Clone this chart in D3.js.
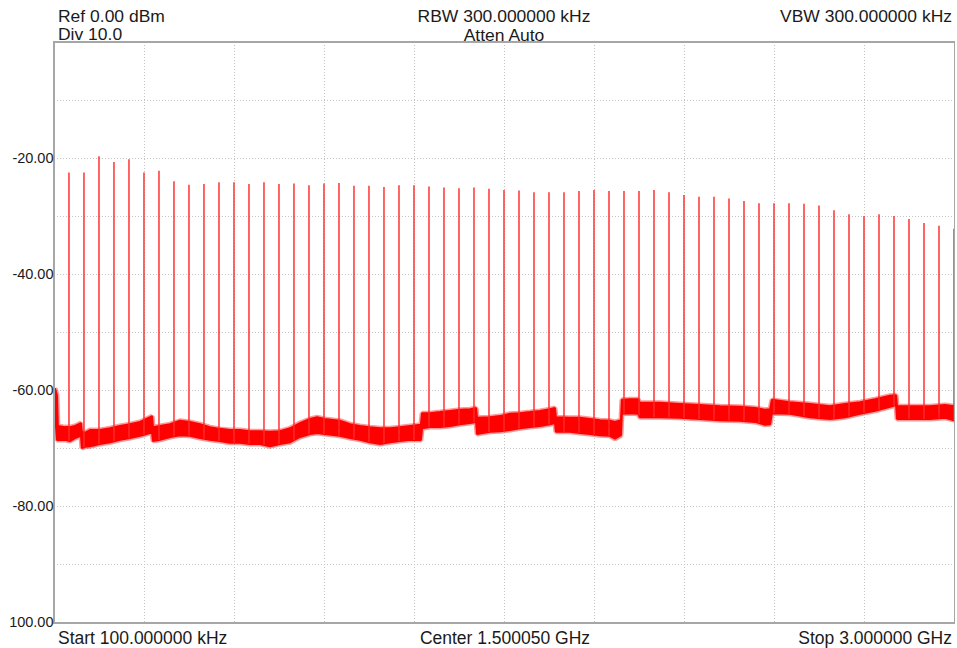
<!DOCTYPE html>
<html><head><meta charset="utf-8">
<script src="https://cdn.jsdelivr.net/npm/d3@7"></script>
<style>
body{margin:0;background:#fff;overflow:hidden}
text{font-family:"Liberation Sans",Arial,sans-serif;fill:#1a1a1a}
</style>
</head><body>
<svg id="chart" width="957" height="648"></svg>
<script>
// ---- data ----
const startMHz = 0.1, stopMHz = 3000;
const refDbm = 0, bottomDbm = -100, divDb = 10;
const yTickValues = [-20, -40, -60, -80, -100];
const yTickLabels = ["-20.00", "-40.00", "-60.00", "-80.00", "100.00"];
const headerTopLeft = ["Ref 0.00 dBm", "Div 10.0"];
const headerTopCenter = ["RBW 300.000000 kHz", "Atten Auto"];
const headerTopRight = ["VBW 300.000000 kHz"];
const footerLabels = ["Start 100.000000 kHz", "Center 1.500050 GHz", "Stop 3.000000 GHz"];

const spikeFreqMHz = [0.1, 50, 100, 150, 200, 250, 300, 350, 400, 450, 500, 550, 600, 650, 700, 750,
  800, 850, 900, 950, 1000, 1050, 1100, 1150, 1200, 1250, 1300, 1350, 1400, 1450, 1500, 1550,
  1600, 1650, 1700, 1750, 1800, 1850, 1900, 1950, 2000, 2050, 2100, 2150, 2200, 2250, 2300, 2350,
  2400, 2450, 2500, 2550, 2600, 2650, 2700, 2750, 2800, 2850, 2900, 2950, 3000];
const spikePeakDbm = [-33.1, -22.5, -22.5, -19.7, -20.7, -20.2, -22.5, -22.2, -24.0, -24.6, -24.5, -24.2, -24.2, -24.5, -24.2, -24.5,
  -24.4, -24.7, -24.4, -24.3, -24.8, -24.8, -25.0, -24.7, -24.7, -24.9, -25.1, -25.2, -25.1, -25.3, -25.5, -25.6,
  -25.9, -25.9, -25.9, -25.7, -25.5, -25.7, -25.7, -25.7, -25.5, -25.9, -26.4, -26.7, -26.7, -27.0, -27.4, -27.8,
  -27.8, -27.8, -27.9, -28.2, -29.0, -29.7, -30.0, -29.7, -30.0, -30.5, -31.2, -31.7, -32.2];

const noiseFreqMHz = [3.3, 10, 13, 37, 53, 70, 90, 93, 103, 120, 153, 187, 220, 253, 287, 320, 327, 330, 353, 387,
  420, 453, 487, 520, 553, 587, 620, 653, 687, 720, 753, 787, 820, 853, 877, 903, 953, 987, 1020, 1053,
  1087, 1120, 1153, 1187, 1223, 1227, 1253, 1287, 1320, 1353, 1387, 1407, 1410, 1453, 1487, 1520, 1553, 1587, 1620, 1653,
  1670, 1673, 1720, 1753, 1787, 1820, 1853, 1870, 1890, 1893, 1920, 1947, 1953, 2020, 2087, 2153, 2220, 2287, 2337, 2370,
  2387, 2393, 2453, 2520, 2587, 2637, 2687, 2737, 2787, 2807, 2810, 2853, 2920, 2970, 3000];
const noiseUpperDbm = [-59.7, -60.9, -66.2, -66.4, -66.4, -66.2, -65.7, -67.2, -67.4, -66.9, -66.9, -66.6, -66.2, -65.9, -65.5, -64.7, -64.5, -66.4, -66.2, -65.9,
  -65.3, -65.5, -65.9, -66.4, -66.7, -66.9, -66.9, -67.1, -67.1, -67.2, -67.1, -66.6, -65.7, -65.0, -64.7, -65.0, -65.3, -65.9, -66.2, -66.4,
  -66.6, -66.6, -66.4, -66.2, -66.0, -64.0, -64.0, -63.8, -63.6, -63.4, -63.3, -63.1, -64.8, -64.7, -64.5, -64.1, -64.0, -63.8, -63.6, -63.3,
  -63.1, -64.7, -64.8, -64.8, -65.0, -65.2, -65.3, -65.5, -65.2, -61.7, -61.6, -61.6, -62.2, -62.2, -62.4, -62.6, -62.8, -62.9, -63.1, -63.4,
  -63.3, -61.7, -62.1, -62.4, -62.8, -62.4, -62.1, -61.6, -61.0, -60.9, -62.8, -62.8, -62.8, -62.6, -62.8];
const noiseLowerDbm = [-63.8, -68.6, -68.6, -68.6, -68.8, -68.3, -67.9, -70.0, -69.8, -69.7, -69.3, -69.0, -68.6, -68.3, -67.9, -67.4, -67.4, -68.8, -68.6, -68.1,
  -67.8, -67.9, -68.3, -68.6, -68.8, -69.1, -69.1, -69.3, -69.3, -69.7, -69.3, -69.0, -68.1, -67.6, -67.4, -67.6, -67.9, -68.3, -68.6, -69.0,
  -69.3, -69.0, -68.8, -68.6, -68.6, -66.6, -66.4, -66.4, -66.2, -65.9, -65.7, -65.5, -67.6, -67.2, -67.1, -66.9, -66.6, -66.4, -66.2, -65.9,
  -65.7, -67.2, -67.2, -67.4, -67.6, -67.8, -67.9, -68.4, -67.8, -64.1, -64.0, -64.1, -64.7, -64.7, -64.8, -65.0, -65.2, -65.3, -65.5, -66.0,
  -65.9, -64.0, -64.1, -64.7, -65.0, -64.7, -64.1, -63.6, -62.9, -62.6, -65.0, -65.0, -65.0, -64.8, -65.2];

// ---- layout ----
const svg = d3.select("#chart");
const L = 54, R = 954, T = 42, B = 622;
const x = d3.scaleLinear().domain([startMHz, stopMHz]).range([L, R]);
const y = d3.scaleLinear().domain([bottomDbm, refDbm]).range([B, T]);

// grid
const grid = svg.append("g").attr("stroke", "#c4c4c4").attr("stroke-width", 1).attr("stroke-dasharray", "1,2");
const hLevels = d3.range(refDbm - divDb, bottomDbm, -divDb);
grid.selectAll("line.h").data(hLevels).join("line")
  .attr("x1", L).attr("x2", R).attr("y1", d => Math.round(y(d)) + 0.5).attr("y2", d => Math.round(y(d)) + 0.5);
const vDivs = d3.range(1, 10).map(i => startMHz + i * (stopMHz - startMHz) / 10);
grid.selectAll("line.v").data(vDivs).join("line")
  .attr("y1", T).attr("y2", B).attr("x1", d => Math.round(x(d)) + 0.5).attr("x2", d => Math.round(x(d)) + 0.5);

// clip
svg.append("clipPath").attr("id", "clip").append("rect").attr("x", L).attr("y", T).attr("width", R - L + 1).attr("height", B - T);
const plot = svg.append("g").attr("clip-path", "url(#clip)");

// noise band: soft outer halo + solid core
const noise = noiseFreqMHz.map((f, i) => ({f, hi: noiseUpperDbm[i], lo: noiseLowerDbm[i]}));
const band = d3.area().x(d => x(d.f)).y0(d => y(d.lo)).y1(d => y(d.hi));
plot.append("path").datum(noise).attr("d", band)
  .attr("fill", "#ff0000").attr("stroke", "#ff2020").attr("stroke-width", 5)
  .attr("stroke-opacity", 0.45).attr("stroke-linejoin", "bevel");
plot.append("path").datum(noise).attr("d", band)
  .attr("fill", "#ff0000").attr("stroke", "#ff0000").attr("stroke-width", 2).attr("stroke-linejoin", "bevel");

// spikes
const floorAt = d3.scaleLinear().domain(noiseFreqMHz).range(noiseLowerDbm).clamp(true);
plot.selectAll("line.spike").data(spikeFreqMHz.map((f, i) => ({f, p: spikePeakDbm[i]}))).join("line")
  .attr("x1", d => x(d.f)).attr("x2", d => x(d.f))
  .attr("y1", d => y(d.p)).attr("y2", d => y(floorAt(d.f)))
  .attr("stroke", "#ff2a2a").attr("stroke-width", 1.6).attr("stroke-opacity", 0.9);

// frame
const frame = svg.append("g").attr("stroke", "#a6a6a6");
frame.append("line").attr("x1", L).attr("x2", L).attr("y1", T - 1).attr("y2", B + 2).attr("stroke-width", 2);
frame.append("line").attr("x1", L - 1).attr("x2", R + 1).attr("y1", T).attr("y2", T).attr("stroke-width", 2);
frame.append("line").attr("x1", L - 1).attr("x2", R + 1).attr("y1", B + 1).attr("y2", B + 1).attr("stroke-width", 2);
frame.append("line").attr("x1", R + 0.5).attr("x2", R + 0.5).attr("y1", T).attr("y2", B + 1).attr("stroke-width", 1);

// y axis labels
const yAxis = d3.axisLeft(y).tickValues(yTickValues)
  .tickFormat((d, i) => yTickLabels[i]).tickSize(0).tickPadding(1);
const ya = svg.append("g").attr("transform", `translate(${L + 0.5},0)`).call(yAxis);
ya.select(".domain").remove();
ya.selectAll("text").style("font-size", "14.5px").style("font-family", '"Liberation Sans", Arial, sans-serif').attr("fill", "#1a1a1a");

// header (slightly condensed height so the two stacked lines don't collide, widened to match)
const hfs = 16.4, hs = 17.5 / hfs;
function header(txt, px, py, anchor) {
  svg.append("g").attr("transform", `translate(${px},${py}) scale(${hs},1)`)
    .append("text").attr("text-anchor", anchor).style("font-size", hfs + "px").text(txt);
}
header(headerTopLeft[0], 58, 22.2, "start");
header(headerTopLeft[1], 58, 40.4, "start");
header(headerTopCenter[0], (L + R) / 2, 22.2, "middle");
header(headerTopCenter[1], (L + R) / 2, 40.6, "middle");
header(headerTopRight[0], 952, 22.2, "end");

// footer
const fs = "17.5px";
svg.append("text").attr("x", 58).attr("y", 644).style("font-size", fs).text(footerLabels[0]);
svg.append("text").attr("x", (L + R) / 2 + 1).attr("y", 644).attr("text-anchor", "middle").style("font-size", fs).text(footerLabels[1]);
svg.append("text").attr("x", 952).attr("y", 644).attr("text-anchor", "end").style("font-size", fs).text(footerLabels[2]);
</script>
</body></html>
